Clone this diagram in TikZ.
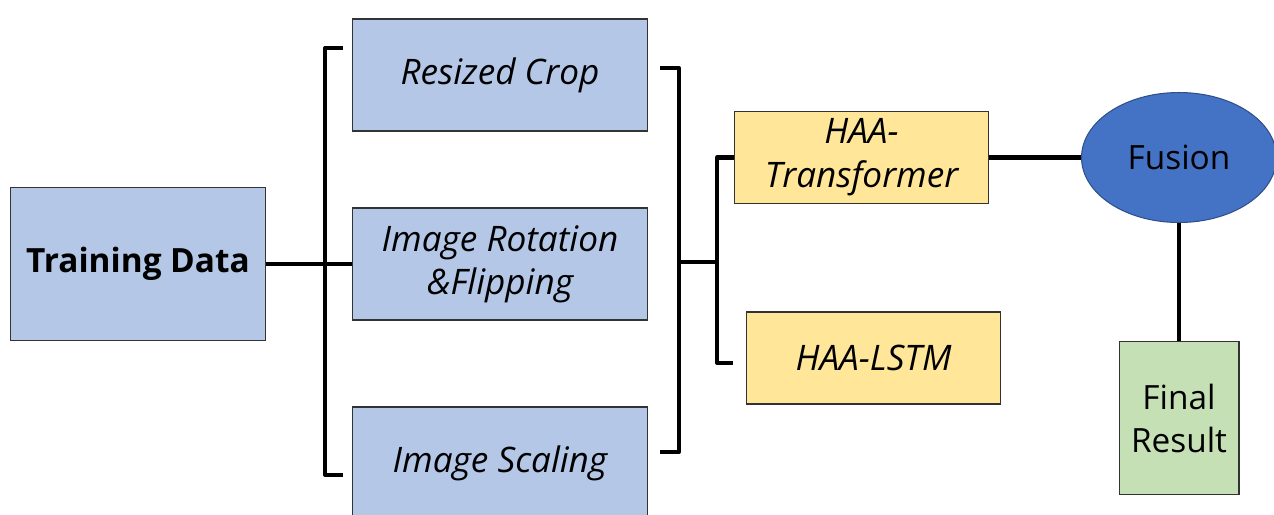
\documentclass[tikz,border=0pt]{standalone}
\usepackage{fontspec}
\setmainfont{Open Sans}
\usetikzlibrary{shapes.geometric,positioning}
\definecolor{augblue}{HTML}{B4C7E7}
\definecolor{modyellow}{HTML}{FFE699}
\definecolor{fuseblue}{HTML}{4472C4}
\definecolor{resgreen}{HTML}{C5E0B4}
\tikzset{
    databox/.style = {rectangle,
                    fill=augblue,
                    draw=black!80,
                    text=black,
                    line width=0.6pt,
                    align=center,
                    inner sep=2pt},
    augbox/.style = {databox,
                    font=\fontsize{20}{24.5}\selectfont\itshape,
                    minimum width=5.9cm,
                    minimum height=2.24cm},
    modbox/.style = {databox,
                    fill=modyellow,
                    font=\fontsize{20}{25}\selectfont\itshape,
                    minimum width=5.08cm,
                    minimum height=1.84cm},
    fuse/.style   = {ellipse,
                    fill=fuseblue,
                    draw=fuseblue!70!black,
                    line width=0.6pt,
                    text=black,
                    font=\fontsize{19}{24}\selectfont,
                    minimum width=3.9cm,
                    minimum height=2.6cm},
    result/.style = {databox,
                    fill=resgreen,
                    font=\fontsize{19}{24.5}\selectfont,
                    minimum width=2.4cm,
                    minimum height=3.06cm},
    -,
    link/.style   = {line width=2.3pt,
                    draw=black,
                    line join=round}
}

\begin{document}
\begin{tikzpicture}[x=0.02cm,y=-0.02cm]
    \useasboundingbox (0,0) rectangle (1274,514);
    \clip (0,0) rectangle (1274,514);
    % input
    \node[databox, minimum width=5.1cm, minimum height=3.06cm,
          font=\fontsize{19}{24}\selectfont\bfseries] (train) at (138,264) {Training Data};
    % augmentation
    \node[augbox]   (crop)  at (500,75)  {Resized Crop};
    \node[augbox]   (rot)   at (500,264) {Image Rotation\\\&Flipping};
    \node[augbox]   (scale) at (500,463) {Image Scaling};
    % models
    \node[modbox]   (trans) at (861.5,157.5) {HAA-\\Transformer};
    \node[modbox]   (lstm)  at (873.5,358)   {HAA-LSTM};
    % output
    \node[fuse]     (fusion) at (1179,157.5) {Fusion};
    \node[result]   (final)  at (1179,418)   {Final\\Result};
    % bracket points
    \coordinate (lt) at (343,48);
    \coordinate (lb) at (343,475);
    \coordinate (rt) at (660,68);
    \coordinate (rb) at (660,452);
    \coordinate (rm) at (679,262);
    \coordinate (mt) at (717,157.5);
    \coordinate (mm) at (717,262);
    \coordinate (mb) at (733,363);
    \draw[link] (lt) -- (325,48) -- (325,475) -- (lb);
    \draw[link] (rt) -- (679,68) -- (679,452) -- (rb);
    \draw[link] (trans.west) -- (mt) -- (717,363) -- (mb);
    \path[link] (train.east) edge (rot.west)
                (rm)         edge (mm)
                (trans.east) edge (fusion.west)
                (fusion.south) edge (final.north);
\end{tikzpicture}
\end{document}
